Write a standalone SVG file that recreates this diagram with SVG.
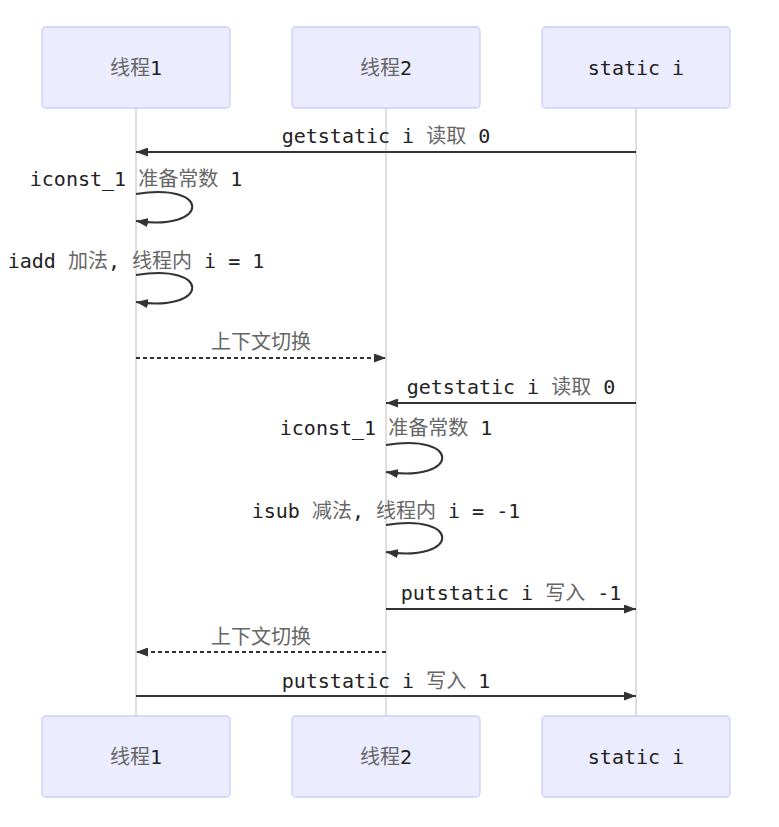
<svg xmlns="http://www.w3.org/2000/svg" width="779" height="827" viewBox="0 0 779 827">
  <style>
    .actor rect { fill: #ECECFF; stroke: #CCCCFF; stroke-width: 1.3; }
    .lifeline { stroke: #CCCCCC; stroke-width: 1.3; fill: none; }
    text { font-family: "DejaVu Sans Mono", "Liberation Mono", "Noto Sans CJK SC", monospace; font-size: 20px; fill: #222; }
    .lbl { text-anchor: middle; }
    .cjk { fill: #666; font-family: "Noto Sans CJK SC", sans-serif; }
    .msg { stroke: #333; stroke-width: 2; fill: none; marker-end: url(#arrow); }
    .dash { stroke-dasharray: 4 3; }
  </style>
  <defs>
    <marker id="arrow" markerUnits="userSpaceOnUse" viewBox="0 0 12 9" markerWidth="12" markerHeight="9" refX="12" refY="4.5" orient="auto">
      <path d="M0,0 L12,4.5 L0,9 z" fill="#333"/>
    </marker>
  </defs>

  <rect width="779" height="827" fill="#ffffff"/>

  <!-- lifelines -->
  <g id="lifelines">
    <line class="lifeline" x1="136" y1="108" x2="136" y2="716"/>
    <line class="lifeline" x1="386" y1="108" x2="386" y2="716"/>
    <line class="lifeline" x1="636" y1="108" x2="636" y2="716"/>
  </g>

  <!-- participants, top and bottom -->
  <g id="thread1" class="actor">
    <rect x="42" y="27" width="188" height="81" rx="4"/>
    <text class="lbl" x="136" y="75"><tspan class="cjk">线程</tspan>1</text>
    <rect x="42" y="716" width="188" height="81" rx="4"/>
    <text class="lbl" x="136" y="764"><tspan class="cjk">线程</tspan>1</text>
  </g>
  <g id="thread2" class="actor">
    <rect x="292" y="27" width="188" height="81" rx="4"/>
    <text class="lbl" x="386" y="75"><tspan class="cjk">线程</tspan>2</text>
    <rect x="292" y="716" width="188" height="81" rx="4"/>
    <text class="lbl" x="386" y="764"><tspan class="cjk">线程</tspan>2</text>
  </g>
  <g id="static-i" class="actor">
    <rect x="542" y="27" width="188" height="81" rx="4"/>
    <text class="lbl" x="636" y="75">static i</text>
    <rect x="542" y="716" width="188" height="81" rx="4"/>
    <text class="lbl" x="636" y="764">static i</text>
  </g>

  <!-- messages -->
  <g id="messages">
    <text class="lbl" x="386" y="143">getstatic i <tspan class="cjk">读取</tspan> 0</text>
    <line class="msg" x1="636" y1="152" x2="136" y2="152"/>

    <text class="lbl" x="136" y="186">iconst_1 <tspan class="cjk">准备常数</tspan> 1</text>
    <path class="msg" d="M136,194 C211,181.5 211,231.5 136,221"/>

    <text class="lbl" x="136" y="268">iadd <tspan class="cjk">加法</tspan>, <tspan class="cjk">线程内</tspan> i = 1</text>
    <path class="msg" d="M136,275 C211,262.5 211,312.5 136,302"/>

    <text class="lbl" x="261" y="349"><tspan class="cjk">上下文切换</tspan></text>
    <line class="msg dash" x1="136" y1="358" x2="386" y2="358"/>

    <text class="lbl" x="511" y="394">getstatic i <tspan class="cjk">读取</tspan> 0</text>
    <line class="msg" x1="636" y1="403" x2="386" y2="403"/>

    <text class="lbl" x="386" y="435">iconst_1 <tspan class="cjk">准备常数</tspan> 1</text>
    <path class="msg" d="M386,445 C461,432.5 461,482.5 386,472"/>

    <text class="lbl" x="386" y="518">isub <tspan class="cjk">减法</tspan>, <tspan class="cjk">线程内</tspan> i = -1</text>
    <path class="msg" d="M386,525 C461,512.5 461,562.5 386,552"/>

    <text class="lbl" x="511" y="600">putstatic i <tspan class="cjk">写入</tspan> -1</text>
    <line class="msg" x1="386" y1="609" x2="636" y2="609"/>

    <text class="lbl" x="261" y="644"><tspan class="cjk">上下文切换</tspan></text>
    <line class="msg dash" x1="386" y1="652" x2="136" y2="652"/>

    <text class="lbl" x="386" y="688">putstatic i <tspan class="cjk">写入</tspan> 1</text>
    <line class="msg" x1="136" y1="696" x2="636" y2="696"/>
  </g>
</svg>
